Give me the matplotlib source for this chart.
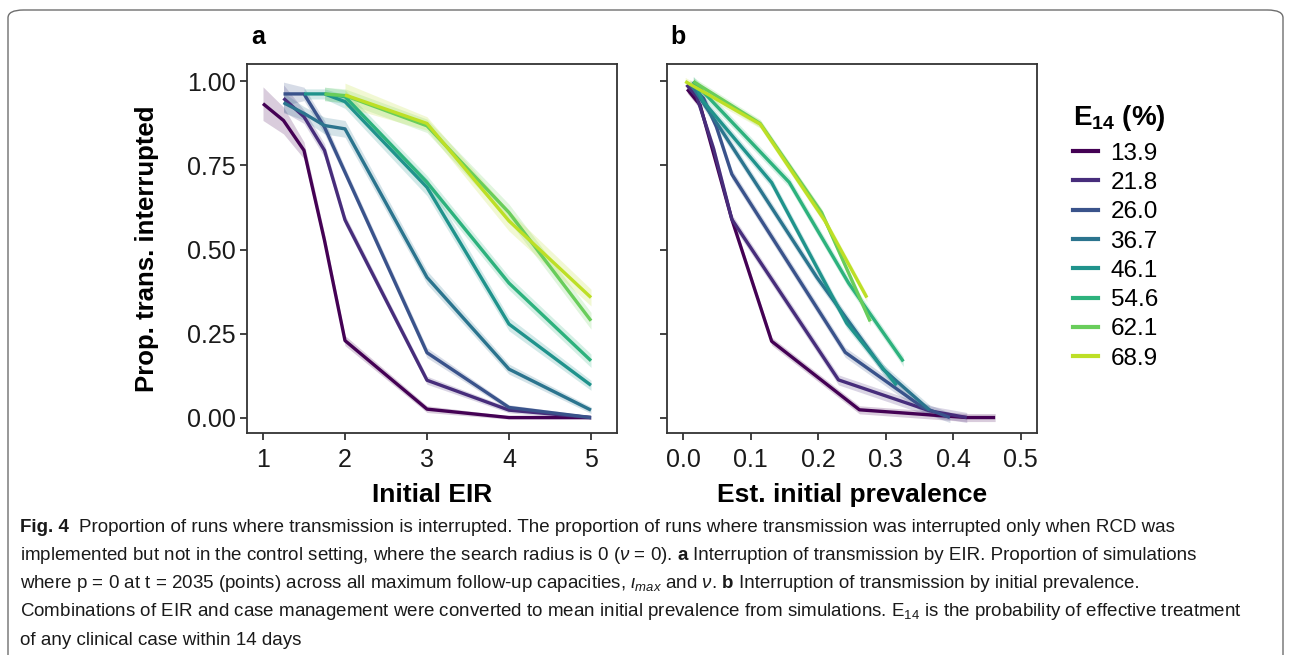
import matplotlib
matplotlib.use("Agg")
import matplotlib.pyplot as plt
import numpy as np
from matplotlib.lines import Line2D
from matplotlib.patches import FancyBboxPatch

nan = np.nan

# E14 levels (%) shown in the legend
E14_LABELS = ["13.9", "21.8", "26.0", "36.7", "46.1", "54.6", "62.1", "68.9"]

# Panel a: proportion interrupted by initial EIR
EIR = [1, 1.25, 1.5, 1.75, 2, 3, 4, 5]
prop_a_139 = [0.934, 0.884, 0.795, 0.527, 0.229, 0.025, 0.0, 0.0]
prop_a_218 = [nan, 0.950, 0.895, 0.795, 0.588, 0.111, 0.022, 0.0]
prop_a_260 = [nan, 0.963, 0.963, 0.864, 0.730, 0.193, 0.030, 0.0]
prop_a_367 = [nan, 0.937, 0.905, 0.869, 0.859, 0.417, 0.144, 0.022]
prop_a_461 = [nan, nan, 0.963, 0.963, 0.940, 0.685, 0.278, 0.096]
prop_a_546 = [nan, nan, nan, 0.963, 0.955, 0.700, 0.400, 0.169]
prop_a_621 = [nan, nan, nan, 0.963, 0.958, 0.868, 0.610, 0.288]
prop_a_689 = [nan, nan, nan, nan, 0.960, 0.875, 0.585, 0.357]

# half-width of the shaded band around each line in panel a
band_a_139 = [0.05, 0.04, 0.025, 0.02, 0.015, 0.01, 0.005, 0.005]
band_a_218 = [0, 0.04, 0.02, 0.02, 0.015, 0.012, 0.008, 0.005]
band_a_260 = [0, 0.035, 0.02, 0.02, 0.015, 0.015, 0.008, 0.005]
band_a_367 = [0, 0.03, 0.02, 0.025, 0.025, 0.02, 0.015, 0.01]
band_a_461 = [0, 0, 0.015, 0.015, 0.02, 0.025, 0.02, 0.015]
band_a_546 = [0, 0, 0, 0.02, 0.02, 0.02, 0.02, 0.02]
band_a_621 = [0, 0, 0, 0.02, 0.02, 0.02, 0.025, 0.025]
band_a_689 = [0, 0, 0, 0, 0.035, 0.02, 0.03, 0.025]

# Panel b: proportion interrupted by estimated initial prevalence
prev_b_139 = [0.006, 0.025, 0.072, 0.131, 0.261, 0.420, 0.462]
prop_b_139 = [0.977, 0.930, 0.590, 0.227, 0.023, 0.0, 0.0]
prev_b_218 = [0.005, 0.020, 0.045, 0.072, 0.230, 0.365, 0.420]
prop_b_218 = [0.990, 0.955, 0.800, 0.590, 0.112, 0.020, 0.0]
prev_b_260 = [0.010, 0.030, 0.049, 0.072, 0.240, 0.355, 0.395]
prop_b_260 = [0.990, 0.950, 0.866, 0.724, 0.194, 0.030, 0.0]
prev_b_367 = [0.012, 0.025, 0.055, 0.198, 0.296, 0.365]
prop_b_367 = [0.990, 0.950, 0.860, 0.417, 0.144, 0.022]
prev_b_461 = [0.015, 0.030, 0.131, 0.242, 0.316]
prop_b_461 = [1.000, 0.940, 0.699, 0.281, 0.096]
prev_b_546 = [0.015, 0.157, 0.245, 0.326]
prop_b_546 = [1.000, 0.700, 0.400, 0.167]
prev_b_621 = [0.015, 0.114, 0.205, 0.277]
prop_b_621 = [1.000, 0.875, 0.610, 0.286]
prev_b_689 = [0.003, 0.114, 0.210, 0.272]
prop_b_689 = [1.000, 0.873, 0.585, 0.357]

band_b = [0.012, 0.015, 0.015, 0.015, 0.015, 0.015, 0.012, 0.012]

CAPTION = [
    [("Fig. 4", True), ("  Proportion of runs where transmission is interrupted. The proportion of runs "
                        "where transmission was interrupted only when RCD was", False)],
    [("implemented but not in the control setting, where the search radius is 0 ($\\nu$ = 0). ", False),
     ("a", True), (" Interruption of transmission by EIR. Proportion of simulations", False)],
    [("where p = 0 at t = 2035 (points) across all maximum follow-up capacities, $\\iota_{max}$ and $\\nu$. ", False),
     ("b", True), (" Interruption of transmission by initial prevalence.", False)],
    [("Combinations of EIR and case management were converted to mean initial prevalence from "
      "simulations. E$_{14}$ is the probability of effective treatment", False)],
    [("of any clinical case within 14 days", False)],
]

W, H = 1291, 655
COLORS = [plt.cm.viridis(v) for v in np.linspace(0, 0.9, len(E14_LABELS))]
SPINE = "#333333"

plt.rcParams["font.family"] = ["Liberation Sans", "DejaVu Sans"]
plt.rcParams["mathtext.fontset"] = "custom"
plt.rcParams["mathtext.rm"] = "Liberation Sans"
plt.rcParams["mathtext.it"] = "Liberation Sans:italic"
plt.rcParams["mathtext.bf"] = "Liberation Sans:bold"


def style_axes(ax):
    for s in ax.spines.values():
        s.set_color(SPINE)
        s.set_linewidth(1.3)
    ax.tick_params(direction="out", length=5, width=1.3, color=SPINE,
                   labelsize=18, labelcolor="#1a1a1a")
    ax.tick_params(axis="x", pad=6)
    ax.tick_params(axis="y", pad=3)
    ax.set_ylim(-0.046, 1.052)
    ax.set_yticks([0, 0.25, 0.5, 0.75, 1.0])
    ax.set_yticklabels(["0.00", "0.25", "0.50", "0.75", "1.00"])


def space_width(fig, r, n, size, fam):
    a = fig.text(0, 0, "x" + " " * n + "x", fontsize=size, family=fam)
    b = fig.text(0, 0, "xx", fontsize=size, family=fam)
    w = a.get_window_extent(r).width - b.get_window_extent(r).width
    a.remove()
    b.remove()
    return w


def draw_caption(fig, lines, x_px, y_px, step, size):
    fam = ["Liberation Sans Narrow", "Liberation Sans", "DejaVu Sans"]
    r = fig.canvas.get_renderer()
    for i, segs in enumerate(lines):
        x = x_px
        y = 1 - (y_px + i * step) / H
        for txt, bold in segs:
            lead = len(txt) - len(txt.lstrip(" "))
            if lead:
                x += space_width(fig, r, lead, size, fam)
            t = fig.text(x / W, y, txt.strip(" "), fontsize=size, family=fam,
                         fontweight="bold" if bold else "normal",
                         va="center", ha="left", color="#1a1a1a")
            x += t.get_window_extent(r).width
            trail = len(txt) - len(txt.rstrip(" "))
            if trail:
                x += space_width(fig, r, trail, size, fam)


def main():
    fig = plt.figure(figsize=(W / 100, H / 100), dpi=100)

    ax_a = fig.add_axes([247 / W, 1 - 433 / H, 370 / W, 369 / H])
    ax_b = fig.add_axes([667 / W, 1 - 433 / H, 370 / W, 369 / H])

    props_a = [prop_a_139, prop_a_218, prop_a_260, prop_a_367,
               prop_a_461, prop_a_546, prop_a_621, prop_a_689]
    bands_a = [band_a_139, band_a_218, band_a_260, band_a_367,
               band_a_461, band_a_546, band_a_621, band_a_689]
    prevs_b = [prev_b_139, prev_b_218, prev_b_260, prev_b_367,
               prev_b_461, prev_b_546, prev_b_621, prev_b_689]
    props_b = [prop_b_139, prop_b_218, prop_b_260, prop_b_367,
               prop_b_461, prop_b_546, prop_b_621, prop_b_689]

    x_a = np.array(EIR)
    for y, hw, c in zip(props_a, bands_a, COLORS):
        y = np.array(y)
        hw = np.array(hw)
        ax_a.fill_between(x_a, y - hw, y + hw, color=c, alpha=0.2, lw=0)
        ax_a.plot(x_a, y, color=c, lw=2.4, solid_capstyle="butt")

    for x, y, hw, c in zip(prevs_b, props_b, band_b, COLORS):
        x = np.array(x)
        y = np.array(y)
        ax_b.fill_between(x, y - hw, y + hw, color=c, alpha=0.2, lw=0)
        ax_b.plot(x, y, color=c, lw=2.4, solid_capstyle="butt")

    style_axes(ax_a)
    ax_a.set_xlim(0.805, 5.317)
    ax_a.set_xticks([1, 2, 3, 4, 5])
    ax_a.set_xlabel("Initial EIR", fontsize=19, fontweight="bold")
    ax_a.xaxis.set_label_coords(0.5, -0.135)
    ax_a.set_ylabel("Prop. trans. interrupted", fontsize=18.5, fontweight="bold")
    ax_a.yaxis.set_label_coords(-0.237, 0.5)

    style_axes(ax_b)
    ax_b.set_xlim(-0.024, 0.524)
    ax_b.set_xticks([0.0, 0.1, 0.2, 0.3, 0.4, 0.5])
    ax_b.set_xticklabels(["0.0", "0.1", "0.2", "0.3", "0.4", "0.5"])
    ax_b.set_yticklabels([])
    ax_b.set_xlabel("Est. initial prevalence", fontsize=19, fontweight="bold")
    ax_b.xaxis.set_label_coords(0.5, -0.135)

    fig.text(258 / W, 1 - 37 / H, "a", fontsize=18, fontweight="bold", ha="center", va="center")
    fig.text(678 / W, 1 - 37 / H, "b", fontsize=18, fontweight="bold", ha="center", va="center")

    handles = [Line2D([0], [0], color=c, lw=3) for c in COLORS]
    leg = fig.legend(handles, E14_LABELS, title="$\\mathbf{E_{14}}$ (%)",
                     loc="upper left", bbox_to_anchor=(1068 / W, 1 - 98 / H),
                     frameon=False, fontsize=17.5, handlelength=1.05, handletextpad=0.5,
                     labelspacing=0.30, borderaxespad=0, borderpad=0.2)
    leg.get_title().set_fontsize(20)
    leg.get_title().set_fontweight("bold")
    leg._legend_box.align = "left"
    leg._legend_box.sep = 7

    border = FancyBboxPatch((8 / W, -0.05), (1283 - 8) / W, 1 - 10 / H + 0.05,
                            boxstyle="round,pad=0,rounding_size=0.012",
                            transform=fig.transFigure, fill=False,
                            ec="#6e6e6e", lw=1.0)
    fig.patches.append(border)

    draw_caption(fig, CAPTION, 20, 527, 28.3, 13.5)

    fig.savefig("out.png", dpi=100)
    plt.close(fig)


if __name__ == "__main__":
    main()
